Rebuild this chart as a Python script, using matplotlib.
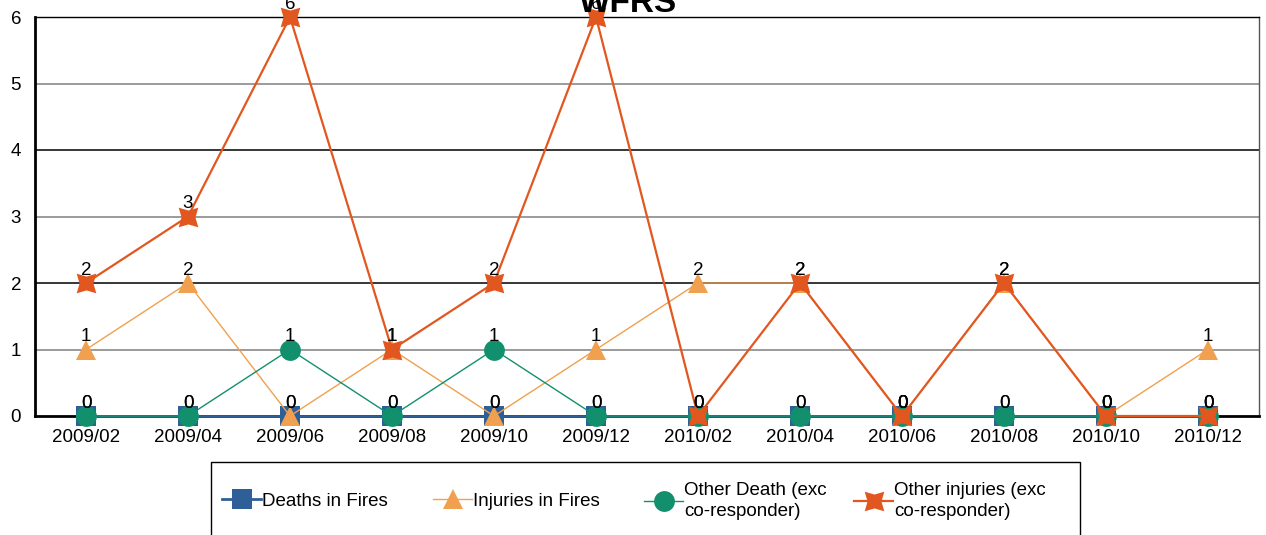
import numpy as np
import matplotlib
matplotlib.use("Agg")
import matplotlib.pyplot as plt
from matplotlib.patches import Rectangle

plt.rcParams['font.family'] = ['Liberation Sans', 'DejaVu Sans']

months = ['2009/02', '2009/04', '2009/06', '2009/08', '2009/10', '2009/12',
          '2010/02', '2010/04', '2010/06', '2010/08', '2010/10', '2010/12']
deaths_fires = [0, 0, 0, 0, 0, 0, 0, 0, 0, 0, 0, 0]
injuries_fires = [1, 2, 0, 1, 0, 1, 2, 2, 0, 2, 0, 1]
other_death = [0, 0, 1, 0, 1, 0, 0, 0, 0, 0, 0, 0]
other_injuries = [2, 3, 6, 1, 2, 6, 0, 2, 0, 2, 0, 0]

W, H = 1266, 535
FS = 13.5
fig = plt.figure(figsize=(W / 100, H / 100), dpi=100)
# axes box in pixels: left 35, right 1259, top 17, bottom 416
ax = fig.add_axes([35 / W, 1 - 416 / H, (1259 - 35) / W, (416 - 17) / H])

x = np.arange(len(months)) + 0.5

series = [
    ('Deaths in Fires', deaths_fires, '#2f5f98', 's', 14, 2.0),
    ('Injuries in Fires', injuries_fires, '#f0a04e', '^', 15, 1.0),
    ('Other Death (exc\nco-responder)', other_death, '#12906e', 'o', 15, 1.0),
    ('Other injuries (exc\nco-responder)', other_injuries, '#e2571f', (4, 1, 45), 20, 1.6),
]

handles = []
for name, vals, col, mk, ms, lw in series:
    h, = ax.plot(x, vals, color=col, marker=mk, markersize=ms, linewidth=lw,
                 markeredgewidth=0, label=name, clip_on=False, zorder=3)
    handles.append(h)
    for xi, v in zip(x, vals):
        ax.annotate(str(v), (xi, v), xytext=(0, 3), textcoords='offset points',
                    ha='center', va='bottom', fontsize=FS, color='black',
                    zorder=5, annotation_clip=False)

ax.set_xlim(0, 12)
ax.set_ylim(0, 6)
ax.set_xticks(x)
ax.set_xticklabels(months, fontsize=FS)
ax.set_yticks(range(7))
ax.set_yticklabels([str(i) for i in range(7)], fontsize=FS)
ax.tick_params(length=0)
ax.tick_params(axis='x', pad=9)
ax.tick_params(axis='y', pad=10)

for yv in range(1, 6):
    c = '#808080' if yv % 2 == 1 else 'black'
    ax.axhline(yv, color=c, linewidth=1.1, zorder=1)

for s in ['left', 'bottom']:
    ax.spines[s].set_color('black')
    ax.spines[s].set_linewidth(2)
ax.spines['top'].set_color('black')
ax.spines['top'].set_linewidth(1)
ax.spines['right'].set_color('#555555')
ax.spines['right'].set_linewidth(1)

fig.text(628 / W, 1 - 12 / H, 'WFRS', ha='center', va='baseline',
         fontsize=24, fontweight='bold')

# legend frame (runs off the bottom)
fig.patches.append(Rectangle((211 / W, -0.05), (1080 - 211) / W, 1 - 462 / H + 0.05,
                             transform=fig.transFigure, fill=False,
                             edgecolor='black', linewidth=1))
# one legend per entry, Excel-style equal columns
for h, x0 in zip(handles, [222, 433, 644, 854]):
    leg = fig.legend(handles=[h], loc='center left', bbox_to_anchor=(x0 / W, 1 - 501 / H),
                     frameon=False, fontsize=FS, handlelength=2.1, handletextpad=0.05,
                     borderpad=0, borderaxespad=0)
    for t in leg.get_texts():
        t.set_linespacing(1.35)

fig.savefig('out.png', dpi=100)
